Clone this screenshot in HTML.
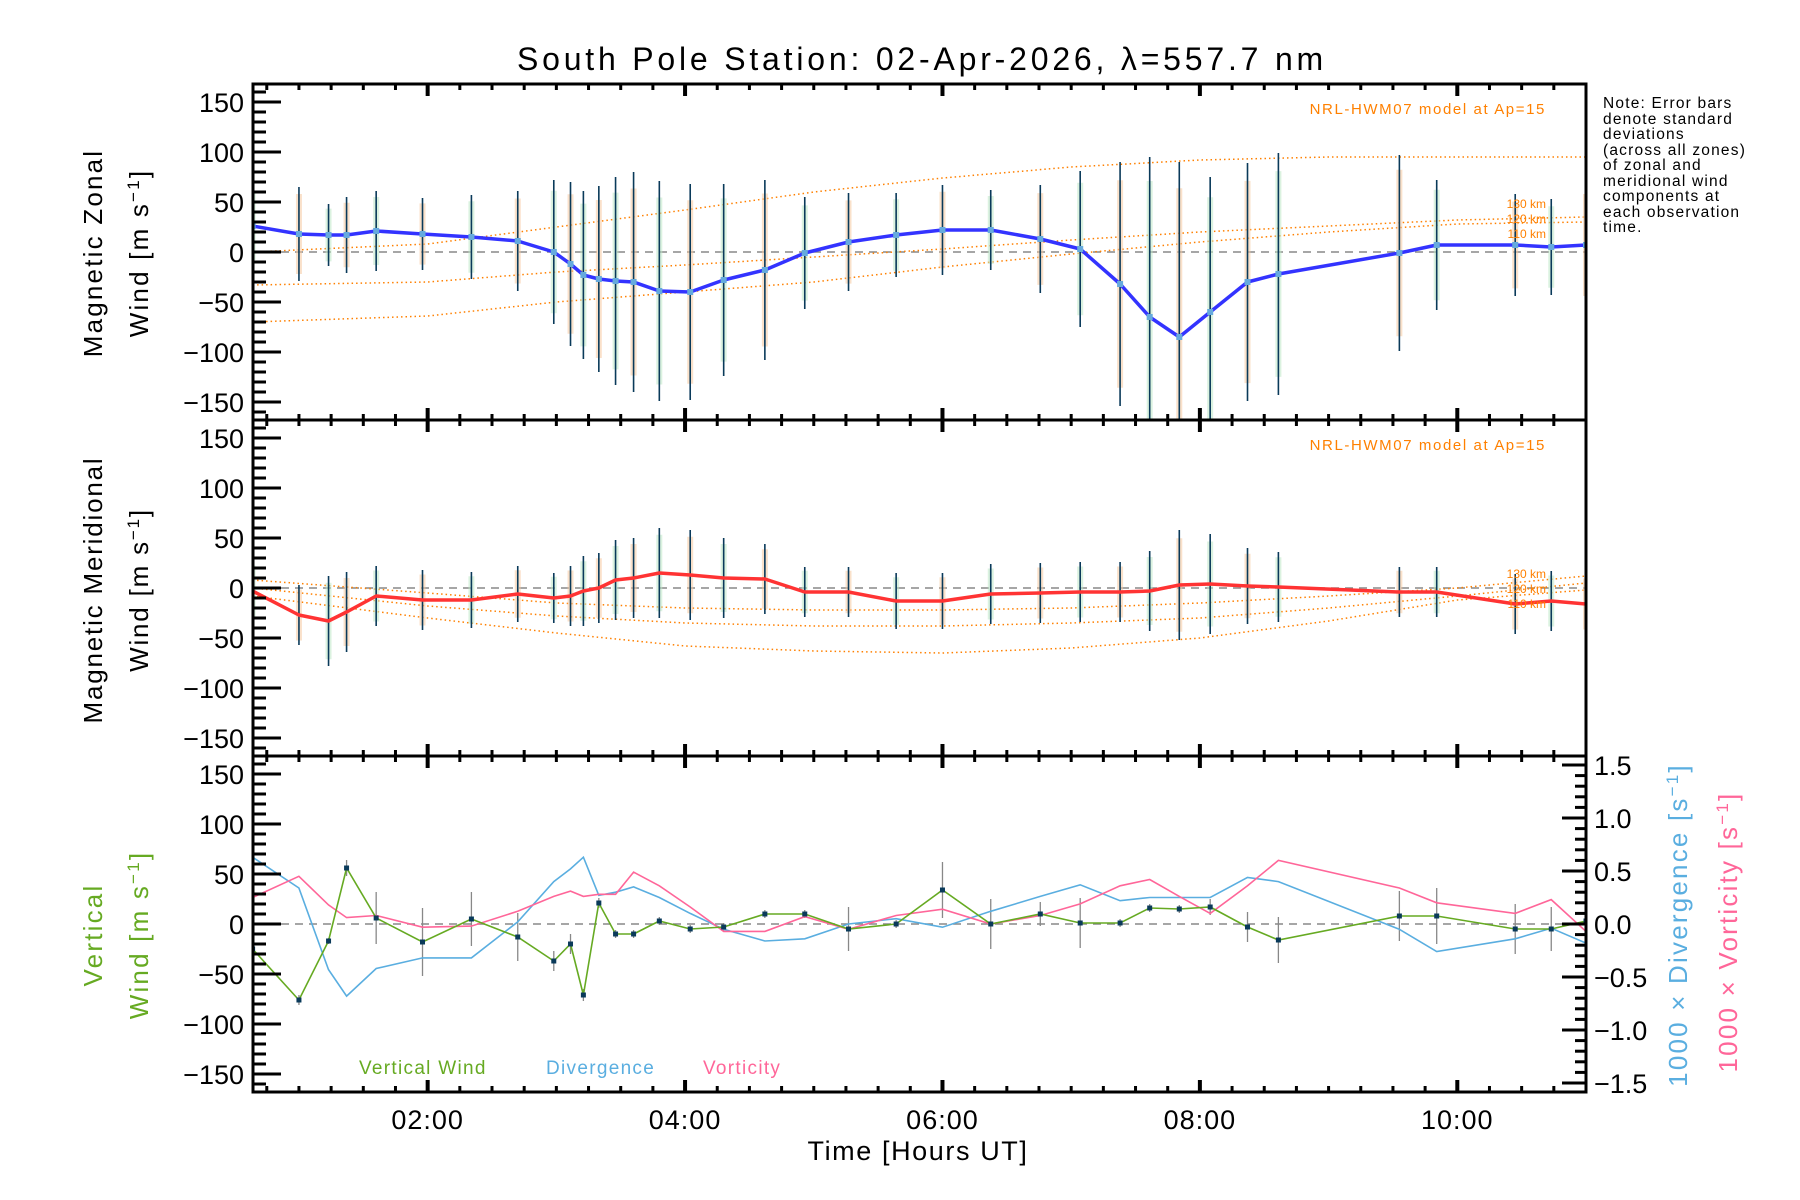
<!DOCTYPE html>
<html><head><meta charset="utf-8"><style>
html,body{margin:0;padding:0;background:#fff}
svg{display:block}
text{font-family:"Liberation Sans",sans-serif}
</style></head><body>
<svg id="chart" width="1800" height="1200" viewBox="0 0 1800 1200" xmlns="http://www.w3.org/2000/svg">
<rect width="1800" height="1200" fill="#fff"/>
<text x="922" y="70" font-size="32" letter-spacing="3.8" text-anchor="middle">South Pole Station: 02-Apr-2026, λ=557.7 nm</text>
<g font-size="15.5" letter-spacing="1.2" fill="#000">
<text x="1603" y="108">Note: Error bars</text>
<text x="1603" y="124">denote standard</text>
<text x="1603" y="139">deviations</text>
<text x="1603" y="155">(across all zones)</text>
<text x="1603" y="170">of zonal and</text>
<text x="1603" y="186">meridional wind</text>
<text x="1603" y="201">components at</text>
<text x="1603" y="217">each observation</text>
<text x="1603" y="232">time.</text>
</g>
<g id="plots"></g>
</svg>
<script>
const times=[0.64,1.0,1.23,1.37,1.60,1.96,2.34,2.70,2.98,3.11,3.21,3.33,3.46,3.60,3.80,4.04,4.30,4.62,4.93,5.27,5.64,6.0,6.375,6.76,7.07,7.38,7.61,7.84,8.08,8.37,8.61,9.55,9.84,10.45,10.73,11.0];
const zonal=[26,18,17,17,21,18,15,11,0,-12,-23,-27,-29,-30,-39,-40,-28,-18,-1,10,17,22,22,13,3,-32,-65,-85,-60,-30,-22,-1,7,7,5,7];
const zonalErr=[40,47,31,38,40,36,42,50,72,82,84,93,104,110,110,108,96,90,56,49,42,45,40,54,78,122,160,175,135,119,121,98,65,51,48,60];
const merid=[-3,-27,-33,-24,-8,-12,-12,-6,-10,-8,-3,0,8,10,15,13,10,9,-4,-4,-13,-13,-6,-5,-4,-4,-3,3,4,2,1,-4,-4,-16,-13,-16];
const meridErr=[30,30,45,40,30,30,28,28,25,30,35,35,40,40,45,45,40,35,25,25,28,28,30,30,30,30,40,55,50,38,35,25,25,30,30,30];
const vert=[-25,-76,-17,56,6,-18,5,-13,-37,-20,-71,21,-10,-10,3,-5,-3,10,10,-5,0,34,0,10,1,1,16,15,17,-3,-16,8,8,-5,-5,3];
const vertErr=[5,5,3,8,26,34,27,24,10,10,6,5,4,4,4,4,4,4,4,22,4,28,25,12,25,4,4,4,8,15,23,25,28,25,22,5];
const divergence=[0.63,0.34,-0.43,-0.68,-0.42,-0.32,-0.32,0.02,0.40,0.52,0.63,0.27,0.30,0.35,0.25,0.10,-0.05,-0.16,-0.14,0.0,0.05,-0.03,0.12,0.26,0.37,0.22,0.25,0.25,0.25,0.44,0.40,-0.05,-0.26,-0.14,-0.04,-0.18];
const vorticity=[0.25,0.45,0.18,0.06,0.08,-0.03,-0.02,0.12,0.26,0.31,0.26,0.28,0.28,0.49,0.36,0.16,-0.07,-0.07,0.07,-0.05,0.08,0.14,0.0,0.08,0.19,0.36,0.42,0.26,0.1,0.36,0.6,0.34,0.2,0.1,0.23,-0.07];
const modelT=[0.64,2,3,4,5,6,7,8,9,10,11];
const zonal130=[0,8,25,42,60,74,85,92,95,95,95];
const zonal120=[-33,-30,-20,-13,-5,3,12,20,26,32,35];
const zonal110=[-70,-64,-50,-40,-30,-15,-2,10,20,28,30];
const merid130=[8,-5,-15,-20,-22,-22,-20,-15,-8,0,12];
const merid120=[0,-18,-28,-35,-38,-38,-35,-30,-20,-8,5];
const merid110=[-8,-30,-45,-58,-63,-65,-60,-50,-33,-12,-2];
const xTickLabels=["02:00","04:00","06:00","08:00","10:00"];
const xTickHours=[2,4,6,8,10];
const yTickVals=[-150,-100,-50,0,50,100,150];
const rTickVals=[-1.5,-1.0,-0.5,0.0,0.5,1.0,1.5];

const NS="http://www.w3.org/2000/svg";
const X0=253,X1=1586,T0=0.643,T1=11.0;
const tops=[84,420,756],H=336;
function xs(t){return X0+(t-T0)/(T1-T0)*(X1-X0);}
function ys(p,v){return tops[p]+H/2-v*(H/336);}
function yr(v){return tops[2]+H/2-v*106;}
const root=document.getElementById('plots');
function el(tag,attrs,parent){const e=document.createElementNS(NS,tag);for(const k in attrs)e.setAttribute(k,attrs[k]);(parent||root).appendChild(e);return e;}
function poly(xsArr,ysArr){return xsArr.map((x,i)=>x.toFixed(1)+','+ysArr[i].toFixed(1)).join(' ');}

const defs=el('defs',{});
for(let p=0;p<3;p++){const c=el('clipPath',{id:'clip'+p},defs);el('rect',{x:X0,y:tops[p],width:X1-X0,height:H},c);}

for(let p=0;p<3;p++){
  const g=el('g',{});
  
  
  const cg=el('g',{'clip-path':'url(#clip'+p+')'},g);
  const z=el('line',{x1:X0,x2:X1,y1:ys(p,0),y2:ys(p,0),stroke:'#888','stroke-width':1.5,'stroke-dasharray':'8 6'},cg);
  
  
  if(p<2){
    const vals=p==0?zonal:merid, errs=p==0?zonalErr:meridErr;
    const models=p==0?[zonal130,zonal120,zonal110]:[merid130,merid120,merid110];
    models.forEach((m,mi)=>{
      const l=el('polyline',{points:poly(modelT.map(xs),m.map(v=>ys(p,v))),fill:'none',stroke:'#ff8000','stroke-width':1.5,'stroke-dasharray':'1.5 3'},cg);
      
      
    });
    times.forEach((t,i)=>{
      const x=xs(t);
      const band=el('line',{x1:x,x2:x,y1:ys(p,vals[i]+errs[i]*0.85),y2:ys(p,vals[i]-errs[i]*0.85),stroke:i%2?'#f7c9a0':'#bfe8c8','stroke-width':6,opacity:0.55},cg);
      
      
      const eb=el('line',{x1:x,x2:x,y1:ys(p,vals[i]+errs[i]),y2:ys(p,vals[i]-errs[i]),stroke:'#0a3a5a','stroke-width':1.6},cg);
      
      
    });
    const ln=el('polyline',{points:poly(times.map(xs),vals.map(v=>ys(p,v))),fill:'none',stroke:p==0?'#3333ff':'#ff3333','stroke-width':3.5,'stroke-linejoin':'round'},cg);
    
    
    if(p==0){times.forEach((t,i)=>{
      const d=el('rect',{x:xs(t)-3,y:ys(p,vals[i])-3,width:6,height:6,fill:'#66aadd'},cg);
      
      
    });}
    const mt=el('text',{x:1546,y:tops[p]+30,'font-size':15,'letter-spacing':1.6,fill:'#ff8000','text-anchor':'end'},g);
    mt.textContent='NRL-HWM07 model at Ap=15';
    
    
    const ly=p==0?[208,223,238]:[578,593,608];
    ['130 km','120 km','110 km'].forEach((s,k)=>{
      const a=el('text',{x:1546,y:ly[k],'font-size':12,fill:'#ff8000','text-anchor':'end'},g);
      a.textContent=s;
      
      
    });
  } else {
    times.forEach((t,i)=>{
      const eb=el('line',{x1:xs(t),x2:xs(t),y1:ys(p,vert[i]+vertErr[i]),y2:ys(p,vert[i]-vertErr[i]),stroke:'#888','stroke-width':1.3},cg);
      
      
    });
    const dl=el('polyline',{points:poly(times.map(xs),divergence.map(yr)),fill:'none',stroke:'#5aaee0','stroke-width':1.6},cg);
    
    
    const vl=el('polyline',{points:poly(times.map(xs),vorticity.map(yr)),fill:'none',stroke:'#ff6699','stroke-width':1.6},cg);
    
    
    const gl=el('polyline',{points:poly(times.map(xs),vert.map(v=>ys(p,v))),fill:'none',stroke:'#66aa22','stroke-width':1.6},cg);
    
    
    times.forEach((t,i)=>{
      const d=el('rect',{x:xs(t)-2.5,y:ys(p,vert[i])-2.5,width:5,height:5,fill:'#0a3a5a'},cg);
      
      
    });
    [['Vertical Wind',359,'#66aa22','legend-vertical-wind'],['Divergence',546,'#5aaee0','legend-divergence'],['Vorticity',703,'#ff6699','legend-vorticity']].forEach(a=>{
      const tx=el('text',{x:a[1],y:1074,'font-size':19,'letter-spacing':1.3,fill:a[2]},g);
      tx.textContent=a[0];
      
      
    });
    for(let v=-15;v<=15;v++){
      const val=v/10,y=yr(val),maj=(v%5==0);
      const tk=el('line',{x1:X1,x2:X1-(maj?24:11),y1:y,y2:y,stroke:'#000','stroke-width':3},g);
      
      
    }
    rTickVals.forEach(v=>{
      const tx=el('text',{x:1594,y:yr(v)+10,'font-size':27},g);
      tx.textContent=(v<0?'\u2212':'')+Math.abs(v).toFixed(1);
      
      
    });
  }
  for(let v=-160;v<=160;v+=10){
    const y=ys(p,v),maj=(v%50==0);
    const tk=el('line',{x1:X0,x2:X0+(maj?28:13),y1:y,y2:y,stroke:'#000','stroke-width':3},g);
    
    
  }
  yTickVals.forEach(v=>{
    const tx=el('text',{x:244,y:ys(p,v)+10,'font-size':27,'text-anchor':'end'},g);
    tx.textContent=(v<0?'\u2212':'')+Math.abs(v);
    
    
  });
  for(let q=3;q<=44;q++){
    const t=q*0.25; if(t<T0||t>T1) continue;
    const x=xs(t),maj=(q%8==0),L=maj?12:6;
    [tops[p],tops[p]+H].forEach((yy,k)=>{
      const tk=el('line',{x1:x,x2:x,y1:yy,y2:k==0?yy+L:yy-L,stroke:'#000','stroke-width':maj?4:3},g);
      
      
    });
  }
  const fr=el('rect',{x:X0,y:tops[p],width:X1-X0,height:H,fill:'none',stroke:'#000','stroke-width':3},g);
  
  
}
xTickHours.forEach((h,i)=>{
  const tx=el('text',{x:xs(h),y:1129,'font-size':27,'letter-spacing':1,'text-anchor':'middle'});
  tx.textContent=xTickLabels[i];
  
  
});
function vlabel(lines,cx,cy,color,name,ls){
  const g=el('g',{transform:'translate('+cx+','+cy+') rotate(-90)'});
  
  
  lines.forEach((s,i)=>{
    const t=el('text',{x:0,y:i*46,'font-size':26,'letter-spacing':ls,'text-anchor':'middle',fill:color},g);
    t.innerHTML=s;
  });
}
const unit='Wind [m s<tspan baseline-shift="super" font-size="17">\u22121</tspan>]';
vlabel(['Magnetic Zonal',unit],102,253,'#000','y-axis-title-zonal',2.2);
vlabel(['Magnetic Meridional',unit],102,590,'#000','y-axis-title-meridional',1.8);
vlabel(['Vertical',unit],102,935,'#66aa22','y-axis-title-vertical',2.2);
vlabel(['1000 \u00d7 Divergence [s<tspan baseline-shift="super" font-size="17">\u22121</tspan>]'],1687,925,'#5aaee0','right-axis-title-divergence',2.2);
vlabel(['1000 \u00d7 Vorticity [s<tspan baseline-shift="super" font-size="17">\u22121</tspan>]'],1737,932,'#ff6699','right-axis-title-vorticity',2.2);
const xt=el('text',{x:918,y:1160,'font-size':27,'letter-spacing':1.6,'text-anchor':'middle'});
xt.textContent='Time [Hours UT]';


</script>
</body></html>
